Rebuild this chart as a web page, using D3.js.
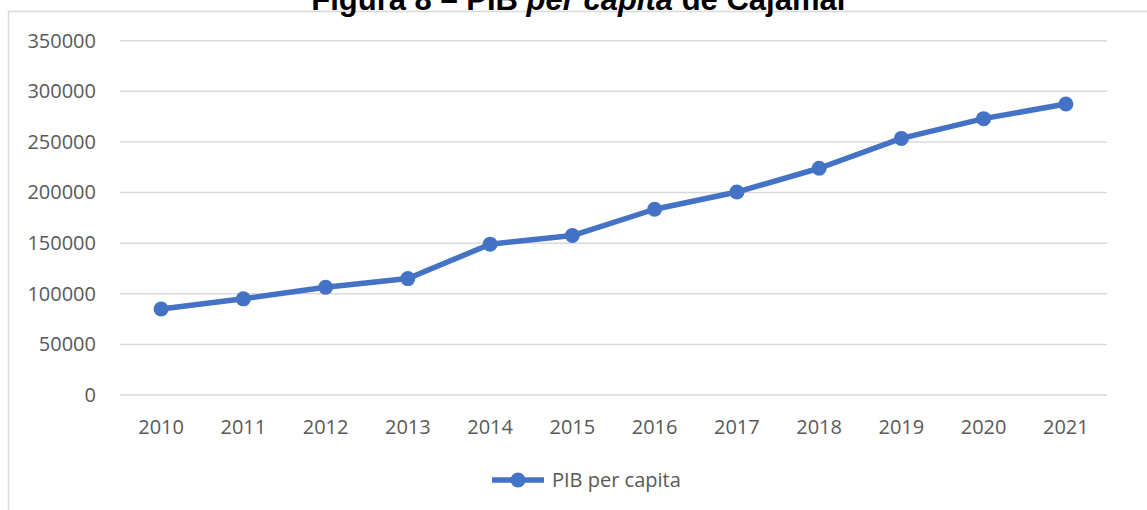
<!DOCTYPE html>
<html>
<head>
<meta charset="utf-8">
<script src="https://cdn.jsdelivr.net/npm/d3@7"></script>
<style>
  body { margin: 0; background: #fff; }
  svg { display: block; }
</style>
</head>
<body>
<div id="chart"></div>
<script>
// values
const years = ["2010","2011","2012","2013","2014","2015","2016","2017","2018","2019","2020","2021"];
const pibPerCapita = [85000, 95000, 106500, 115000, 149000, 157500, 183500, 200500, 224000, 253500, 273000, 287500];
const yTicks = [0, 50000, 100000, 150000, 200000, 250000, 300000, 350000];
const seriesName = "PIB per capita";

const W = 1147, H = 510;
const plot = {left: 120, right: 1107, top: 40.7, bottom: 395};
const blue = "#4472C4";

let svg = d3.select("#chart").append("svg")
    .attr("width", W)
    .attr("height", H);

// chart frame (cut on right and bottom)
svg.append("path")
    .attr("d", "M8.5," + H + " V11.5 H" + W)
    .attr("fill", "none")
    .attr("stroke", "#d9d9d9")
    .attr("stroke-width", 1.5);

// title (its top is cut off in the source image too)
let title = svg.append("text")
    .attr("x", 580)
    .attr("y", 10)
    .attr("text-anchor", "middle")
    .attr("font-family", "'Liberation Sans', Arial, sans-serif")
    .attr("font-weight", "bold")
    .attr("font-size", "31px")
    .attr("fill", "#000");
title.append("tspan").text("Figura 8 – PIB ");
title.append("tspan").attr("font-style", "italic").text("per capita");
title.append("tspan").text(" de Cajamar");

let x = d3.scaleBand()
    .domain(years)
    .range([plot.left, plot.right]);

let y = d3.scaleLinear()
    .domain([0, 350000])
    .range([plot.bottom, plot.top]);

// gridlines
svg.append("g")
    .selectAll("line")
    .data(yTicks)
    .enter()
    .append("line")
    .attr("x1", plot.left)
    .attr("x2", plot.right)
    .attr("y1", d => y(d))
    .attr("y2", d => y(d))
    .attr("stroke", "#d9d9d9")
    .attr("stroke-width", 1.5);

// y axis labels
let yAxis = d3.axisLeft(y)
    .tickValues(yTicks)
    .tickFormat(d3.format("d"))
    .tickSize(0)
    .tickPadding(24);
svg.append("g")
    .attr("transform", "translate(" + plot.left + ",0)")
    .call(yAxis)
    .call(g => g.select(".domain").remove())
    .selectAll("text")
    .attr("font-family", "'Open Sans', sans-serif")
    .attr("font-size", "20px")
    .attr("fill", "#595959");

// x axis labels
let xAxis = d3.axisBottom(x)
    .tickSize(0)
    .tickPadding(25);
svg.append("g")
    .attr("transform", "translate(0," + plot.bottom + ")")
    .call(xAxis)
    .call(g => g.select(".domain").remove())
    .selectAll("text")
    .attr("font-family", "'Open Sans', sans-serif")
    .attr("font-size", "20px")
    .attr("fill", "#595959");

// the line
let line = d3.line()
    .x((d, i) => x(years[i]) + x.bandwidth() / 2)
    .y(d => y(d));

svg.append("path")
    .datum(pibPerCapita)
    .attr("d", line)
    .attr("fill", "none")
    .attr("stroke", blue)
    .attr("stroke-width", 5.5)
    .attr("stroke-linejoin", "round");

svg.append("g")
    .selectAll("circle")
    .data(pibPerCapita)
    .enter()
    .append("circle")
    .attr("cx", (d, i) => x(years[i]) + x.bandwidth() / 2)
    .attr("cy", d => y(d))
    .attr("r", 7.5)
    .attr("fill", blue);

// legend
let legend = svg.append("g").attr("transform", "translate(492,480)");
legend.append("line")
    .attr("x1", 0).attr("x2", 52)
    .attr("y1", 0).attr("y2", 0)
    .attr("stroke", blue)
    .attr("stroke-width", 5.5);
legend.append("circle")
    .attr("cx", 26).attr("cy", 0)
    .attr("r", 7.5)
    .attr("fill", blue);
legend.append("text")
    .attr("x", 60)
    .attr("y", 7)
    .attr("font-family", "'Open Sans', sans-serif")
    .attr("font-size", "20px")
    .attr("fill", "#595959")
    .text(seriesName);
</script>
</body>
</html>
